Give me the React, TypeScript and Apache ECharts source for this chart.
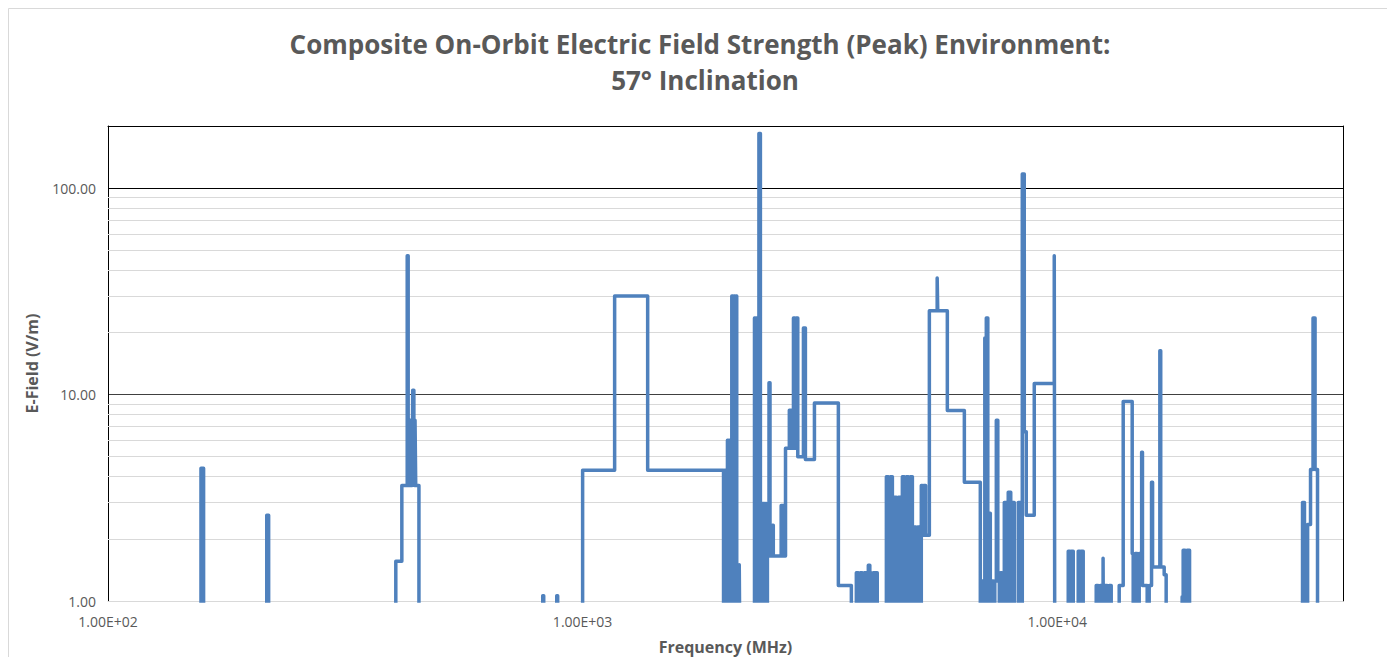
import React, { useEffect, useRef } from 'react';
import * as echarts from 'echarts';

// value used for "no emission" – sits below the 1 V/m floor and is clipped away
const FLOOR = 0.5;

const titleLine1 = 'Composite On-Orbit Electric Field Strength (Peak) Environment:';
const titleLine2 = '57° Inclination';
const xAxisTitle = 'Frequency (MHz)';
const yAxisTitle = 'E-Field (V/m)';

const xRange = [100, 40000];
const yRange = [1, 200];
const xTickValues = [100, 1000, 10000];
const xTickLabels = ['1.00E+02', '1.00E+03', '1.00E+04'];
const yTickValues = [1, 10, 100];
const yTickLabels = ['1.00', '10.00', '100.00'];
const minorGridValues = [2, 3, 4, 5, 6, 7, 8, 9, 20, 30, 40, 50, 60, 70, 80, 90];

// [frequency MHz, peak E-field V/m] – level holds from this frequency up to the next point
const vhfUhfSteps: [number, number][] = [
  [100, FLOOR],
  [157, 4.4], [159, FLOOR],
  [216, 2.6], [218, FLOOR],
  [404, 1.56], [416, 3.63], [427, 47], [429, 3.63], [430, 7.5], [431.5, 3.63], [433, 7.5],
  [434.5, 3.63], [436, 7.5], [437.5, 3.63], [438.5, 10.5], [441, 7.5], [442.5, 3.63],
  [443.5, 7.5], [445, 3.63], [452, FLOOR],
  [824, 1.06], [828, FLOOR], [882, 1.06], [886, FLOOR],
];

const lBandSteps: [number, number][] = [
  [1000, 4.3], [1168, 30], [1371, 4.3],
  [1981, FLOOR], [1990, 4.3], [1999, FLOOR], [2009, 4.3], [2019, 6.0], [2029, FLOOR],
  [2039, 6.0], [2049, FLOOR], [2062, 30], [2072, FLOOR], [2082, 30], [2092, FLOOR],
  [2102, 30], [2112, FLOOR], [2120, 1.5], [2130, FLOOR], [2138, 1.5], [2145, FLOOR],
];

const sBandSteps: [number, number][] = [
  [2302, 23.5], [2313, FLOOR], [2324, 23.5], [2336, FLOOR], [2352, 184], [2369, FLOOR],
  [2381, 2.97], [2392, FLOOR], [2404, 2.97], [2416, FLOOR], [2430, 2.97], [2440, FLOOR],
  [2451, 1.65], [2470, 11.4], [2482, 1.65], [2510, 2.33], [2522, 1.65], [2620, 2.9],
  [2650, 1.65], [2676, 5.5], [2726, 8.4], [2760, 5.5], [2781, 23.5], [2800, 5.5],
  [2815, 23.5], [2840, 5.0], [2919, 21], [2947, 4.85], [3079, 9.1], [3458, 1.19], [3683, FLOOR],
];

const cBandSteps: [number, number][] = [
  [3773, 1.37], [3810, FLOOR], [3847, 1.37], [3884, FLOOR], [3922, 1.37], [3960, FLOOR],
  [3999, 1.49], [4028, 1.37], [4057, FLOOR], [4097, 1.37], [4136, FLOOR], [4150, 1.37], [4176, FLOOR],
  [4365, 4.0], [4408, FLOOR], [4451, 4.0], [4494, FLOOR], [4538, 3.18], [4582, FLOOR],
  [4627, 3.18], [4672, FLOOR], [4717, 4.0], [4763, FLOOR], [4810, 4.0], [4857, FLOOR],
  [4904, 4.0], [4952, FLOOR], [4990, 2.28], [5035, FLOOR], [5080, 2.28], [5125, FLOOR],
  [5171, 3.63], [5200, 2.08], [5230, 3.63], [5280, 2.08], [5377, 25.5], [5585, 36.7],
  [5600, 25.5], [5867, 8.37], [6372, 3.76], [6885, FLOOR],
  [6935, 1.25], [6986, FLOOR], [7037, 18.8], [7088, 23.5], [7140, FLOOR], [7175, 2.66],
  [7227, FLOOR], [7280, 1.25], [7333, FLOOR], [7386, 1.25], [7441, 7.5], [7495, 1.37],
  [7550, FLOOR], [7605, 1.37], [7650, FLOOR],
];

const xBandSteps: [number, number][] = [
  [7735, 3.0], [7808, FLOOR], [7884, 3.36], [7980, FLOOR], [8038, 3.0], [8117, FLOOR],
  [8277, 3.0], [8358, FLOOR], [8440, 117], [8522, 6.6], [8605, 2.6], [8945, 11.3],
  [9856, 47], [9880, FLOOR],
];

const kuBandSteps: [number, number][] = [
  [10548, 1.74], [10651, FLOOR], [10703, 1.74], [10808, FLOOR],
  [11071, 1.74], [11179, FLOOR], [11233, 1.74], [11342, FLOOR],
  [12081, 1.19], [12199, FLOOR], [12318, 1.19], [12438, FLOOR], [12490, 1.61], [12515, FLOOR],
  [12621, 1.19], [12744, FLOOR], [12868, 1.19], [12993, FLOOR],
  [13506, 1.19], [13771, 9.25], [14385, 1.7], [14455, FLOOR], [14596, 1.7], [14739, FLOOR],
  [14882, 1.7], [15060, 5.25], [15120, 1.19], [15470, FLOOR], [15621, 1.19], [15800, 3.76],
  [15880, 1.46], [16450, 16.3], [16520, 1.46], [16800, 1.34], [16962, FLOOR],
  [18330, 1.05], [18420, 1.76], [18600, FLOOR], [18780, 1.76], [19000, FLOOR],
];

const kaBandSteps: [number, number][] = [
  [32870, 3.0], [33180, FLOOR], [33690, 2.35], [34170, 4.34], [34590, 23.5], [34930, 4.34],
  [35350, FLOOR], [40000, FLOOR],
];

const steps = [
  ...vhfUhfSteps, ...lBandSteps, ...sBandSteps, ...cBandSteps, ...xBandSteps, ...kuBandSteps, ...kaBandSteps,
];

const FONT = '"Open Sans", "Noto Sans", sans-serif';
const GREY_TEXT = '#595959';

function pickLabel(values: number[], labels: string[]) {
  return (v: number) => {
    const i = values.findIndex((t) => Math.abs(t - v) / t < 1e-6);
    return i >= 0 ? labels[i] : '';
  };
}

export default function App() {
  const ref = useRef<HTMLDivElement>(null);

  useEffect(() => {
    if (!ref.current) return;
    const chart = echarts.init(ref.current, undefined, { renderer: 'svg' });
    const hiddenAxisBits = {
      axisLabel: { show: false },
      axisTick: { show: false },
      splitLine: { show: false },
      minorTick: { show: false },
    };
    const titleStyle = {
      fontFamily: FONT,
      fontSize: 26,
      fontWeight: 'bold',
      fill: GREY_TEXT,
      textAlign: 'center',
      textVerticalAlign: 'middle',
    };
    chart.setOption({
      animation: false,
      backgroundColor: '#ffffff',
      graphic: [
        {
          type: 'polyline',
          shape: { points: [[8.5, 700], [8.5, 8.5], [1400, 8.5]] },
          style: { stroke: '#d9d9d9', fill: 'none', lineWidth: 1 },
          silent: true,
        },
        {
          type: 'text',
          x: 700,
          y: 44,
          silent: true,
          style: { ...titleStyle, text: titleLine1 },
        },
        {
          type: 'text',
          x: 705,
          y: 80,
          silent: true,
          style: { ...titleStyle, text: titleLine2 },
        },
      ],
      grid: {
        left: 108,
        top: 126,
        right: 44,
        bottom: 56,
        containLabel: false,
        outerBoundsMode: 'none',
      },
      xAxis: [
        {
          type: 'log',
          logBase: 10,
          min: xRange[0],
          max: xRange[1],
          name: xAxisTitle,
          nameLocation: 'middle',
          nameGap: 38,
          nameTextStyle: { fontFamily: FONT, fontSize: 16, fontWeight: 'bold', color: GREY_TEXT },
          axisLine: { show: true, lineStyle: { color: '#d9d9d9', width: 1 } },
          axisTick: { show: false },
          splitLine: { show: false },
          minorTick: { show: false },
          axisLabel: {
            show: true,
            margin: 13,
            fontFamily: FONT,
            fontSize: 14,
            color: GREY_TEXT,
            formatter: pickLabel(xTickValues, xTickLabels),
          },
        },
        {
          type: 'log',
          logBase: 10,
          min: xRange[0],
          max: xRange[1],
          position: 'top',
          axisLine: { show: true, lineStyle: { color: '#000000', width: 1 } },
          ...hiddenAxisBits,
        },
      ],
      yAxis: [
        {
          type: 'log',
          logBase: 10,
          min: yRange[0],
          max: yRange[1],
          name: yAxisTitle,
          nameLocation: 'middle',
          nameGap: 68,
          nameTextStyle: { fontFamily: FONT, fontSize: 16, fontWeight: 'bold', color: GREY_TEXT },
          axisLine: { show: true, lineStyle: { color: '#000000', width: 1 } },
          axisTick: { show: false },
          minorTick: { show: false },
          splitLine: {
            show: true,
            lineStyle: { color: ['#d9d9d9', '#404040', '#000000', '#000000'], width: 1 },
          },
          axisLabel: {
            show: true,
            margin: 12,
            fontFamily: FONT,
            fontSize: 14,
            color: GREY_TEXT,
            formatter: pickLabel(yTickValues, yTickLabels),
          },
        },
        {
          type: 'log',
          logBase: 10,
          min: yRange[0],
          max: yRange[1],
          position: 'right',
          axisLine: { show: true, lineStyle: { color: '#000000', width: 1 } },
          ...hiddenAxisBits,
        },
      ],
      series: [
        {
          type: 'line',
          name: 'minor grid',
          xAxisIndex: 0,
          yAxisIndex: 0,
          data: [],
          z: 1,
          silent: true,
          markLine: {
            z: 1,
            silent: true,
            symbol: ['none', 'none'],
            label: { show: false },
            lineStyle: { color: '#d9d9d9', type: 'solid', width: 1 },
            emphasis: { disabled: true },
            data: minorGridValues.map((v) => ({ yAxis: v })),
          },
        },
        {
          type: 'line',
          name: 'E-Field',
          xAxisIndex: 0,
          yAxisIndex: 0,
          step: 'end',
          data: steps,
          showSymbol: false,
          symbol: 'none',
          clip: true,
          z: 6,
          lineStyle: { color: '#4f81bd', width: 3.5, join: 'round', cap: 'round' },
          emphasis: { disabled: true },
        },
      ],
    });
    return () => chart.dispose();
  }, []);

  return (
    <div
      ref={ref}
      style={{ position: 'absolute', left: 0, top: 0, width: 1387, height: 657, background: '#fff' }}
    />
  );
}
